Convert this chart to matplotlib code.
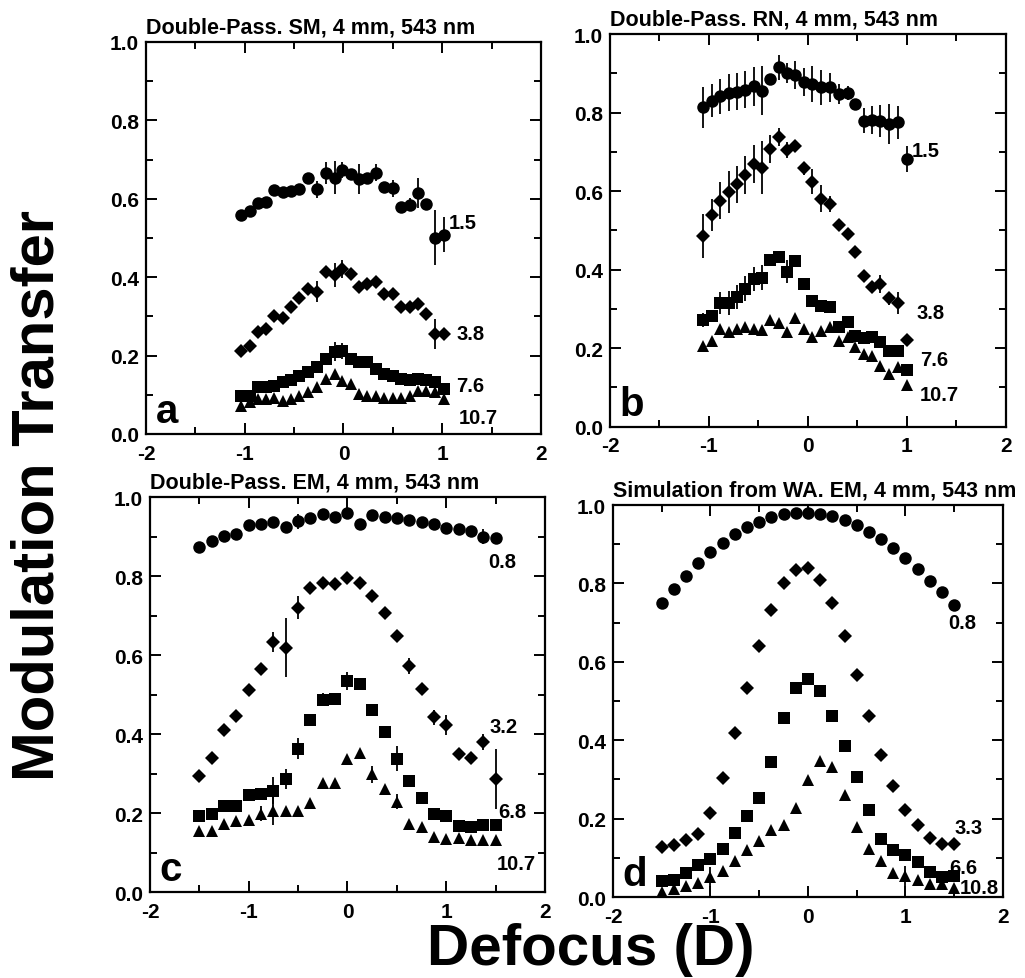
import numpy as np
import matplotlib.pyplot as plt

plt.rcParams['font.family'] = ['Liberation Sans', 'DejaVu Sans']
plt.rcParams['font.weight'] = 'bold'

# ---- panel a: Double-Pass SM ----
xa = [-1.04, -0.95, -0.87, -0.78, -0.70, -0.61, -0.53, -0.45, -0.36, -0.27, -0.18, -0.09, -0.01,
      0.08, 0.16, 0.24, 0.33, 0.41, 0.50, 0.58, 0.67, 0.75, 0.84, 0.93, 1.02]
a_c1 = [0.558, 0.568, 0.589, 0.593, 0.622, 0.618, 0.620, 0.624, 0.653, 0.624, 0.665, 0.654, 0.674,
        0.663, 0.650, 0.654, 0.667, 0.630, 0.627, 0.580, 0.585, 0.614, 0.586, 0.501, 0.508]
a_e1 = [0, 0, 0, 0, 0, 0, 0, 0, 0, 0.022, 0.028, 0.042, 0.02, 0, 0.038, 0, 0.021, 0, 0.022, 0,
        0.017, 0.038, 0, 0.07, 0.045]
a_c2 = [0.212, 0.225, 0.259, 0.268, 0.300, 0.297, 0.323, 0.348, 0.370, 0.363, 0.412, 0.405, 0.422,
        0.408, 0.374, 0.382, 0.388, 0.357, 0.357, 0.323, 0.323, 0.331, 0.306, 0.255, 0.255]
a_e2 = [0, 0, 0, 0, 0, 0.015, 0, 0, 0, 0.026, 0, 0.03, 0.023, 0, 0, 0, 0, 0, 0, 0, 0, 0, 0, 0.038, 0]
a_c3 = [0.098, 0.098, 0.121, 0.119, 0.123, 0.132, 0.138, 0.149, 0.159, 0.170, 0.191, 0.210, 0.212,
        0.191, 0.183, 0.183, 0.167, 0.153, 0.149, 0.140, 0.138, 0.140, 0.138, 0.132, 0.115]
a_e3 = [0, 0, 0, 0, 0, 0, 0, 0, 0, 0, 0, 0.025, 0.02, 0, 0, 0, 0, 0, 0, 0, 0, 0, 0, 0, 0]
a_c4 = [0.072, 0.081, 0.089, 0.089, 0.093, 0.085, 0.089, 0.098, 0.106, 0.119, 0.140, 0.153, 0.136,
        0.127, 0.102, 0.098, 0.098, 0.093, 0.093, 0.093, 0.098, 0.110, 0.110, 0.106, 0.089]

# ---- panel b: Double-Pass RN ----
xb = [-1.06, -0.97, -0.89, -0.80, -0.72, -0.64, -0.55, -0.46, -0.38, -0.29, -0.21, -0.13, -0.04,
      0.04, 0.13, 0.22, 0.31, 0.40, 0.48, 0.57, 0.65, 0.73, 0.82, 0.91, 1.00]
b_c1 = [0.813, 0.830, 0.841, 0.850, 0.853, 0.858, 0.867, 0.856, 0.885, 0.915, 0.901, 0.896, 0.877,
        0.873, 0.864, 0.864, 0.847, 0.850, 0.822, 0.779, 0.782, 0.779, 0.771, 0.775, 0.682]
b_e1 = [0.051, 0.042, 0.045, 0.047, 0.047, 0.047, 0.049, 0.062, 0.01, 0.032, 0.025, 0.036, 0.036,
        0.045, 0.045, 0.036, 0.025, 0.017, 0.01, 0.032, 0.036, 0.040, 0.051, 0.042, 0.034]
b_c2 = [0.486, 0.539, 0.576, 0.598, 0.618, 0.641, 0.669, 0.660, 0.707, 0.739, 0.705, 0.716, 0.658,
        0.624, 0.581, 0.567, 0.514, 0.491, 0.444, 0.385, 0.357, 0.363, 0.327, 0.315, 0.222]
b_e2 = [0.057, 0.040, 0.047, 0.053, 0.047, 0.049, 0.049, 0.068, 0.036, 0.023, 0.021, 0, 0.017,
        0.032, 0.034, 0.021, 0, 0, 0, 0, 0, 0.023, 0.017, 0.028, 0]
b_c3 = [0.272, 0.281, 0.315, 0.315, 0.331, 0.352, 0.376, 0.380, 0.425, 0.431, 0.395, 0.423, 0.363,
        0.321, 0.308, 0.304, 0.253, 0.266, 0.230, 0.225, 0.228, 0.215, 0.194, 0.194, 0.145]
b_e3 = [0.017, 0, 0.028, 0.030, 0.030, 0.032, 0.030, 0.032, 0, 0, 0.030, 0, 0, 0, 0, 0, 0, 0, 0, 0,
        0, 0, 0, 0, 0]
b_c4 = [0.206, 0.219, 0.249, 0.240, 0.250, 0.253, 0.249, 0.247, 0.272, 0.264, 0.240, 0.276, 0.250,
        0.228, 0.244, 0.253, 0.219, 0.228, 0.202, 0.185, 0.181, 0.155, 0.134, 0.151, 0.106]

# ---- panel c: Double-Pass EM ----
xc = [-1.5, -1.375, -1.25, -1.125, -1.0, -0.875, -0.75, -0.625, -0.5, -0.375, -0.25, -0.125, 0.0,
      0.125, 0.25, 0.375, 0.5, 0.625, 0.75, 0.875, 1.0, 1.125, 1.25, 1.375, 1.5]
c_c1 = [0.873, 0.889, 0.901, 0.907, 0.928, 0.932, 0.937, 0.924, 0.939, 0.948, 0.956, 0.949, 0.959,
        0.932, 0.954, 0.949, 0.948, 0.943, 0.937, 0.931, 0.922, 0.920, 0.914, 0.899, 0.897]
c_e1 = [0, 0, 0, 0, 0, 0, 0, 0, 0.019, 0, 0, 0, 0, 0, 0, 0, 0, 0, 0, 0, 0, 0, 0, 0.019, 0]
c_c2 = [0.295, 0.340, 0.409, 0.446, 0.512, 0.565, 0.633, 0.619, 0.720, 0.770, 0.783, 0.781, 0.796,
        0.782, 0.749, 0.706, 0.647, 0.572, 0.513, 0.443, 0.422, 0.349, 0.340, 0.380, 0.287]
c_e2 = [0, 0, 0, 0, 0, 0, 0.025, 0.074, 0.030, 0, 0, 0, 0, 0, 0, 0, 0.015, 0.021, 0, 0.019, 0.025,
        0, 0, 0.021, 0.076]
c_c3 = [0.192, 0.198, 0.217, 0.219, 0.245, 0.249, 0.256, 0.287, 0.363, 0.436, 0.487, 0.489, 0.534,
        0.526, 0.460, 0.405, 0.338, 0.281, 0.239, 0.198, 0.192, 0.166, 0.165, 0.170, 0.169]
c_e3 = [0, 0, 0, 0, 0, 0, 0.034, 0.025, 0.027, 0, 0.017, 0, 0.023, 0, 0, 0, 0.032, 0, 0, 0, 0, 0,
        0, 0, 0]
c_c4 = [0.154, 0.154, 0.173, 0.180, 0.183, 0.198, 0.205, 0.205, 0.205, 0.225, 0.276, 0.276, 0.338,
        0.352, 0.298, 0.262, 0.228, 0.173, 0.165, 0.139, 0.135, 0.138, 0.131, 0.131, 0.131]
c_e4 = [0, 0, 0, 0, 0, 0.019, 0.036, 0, 0, 0, 0, 0, 0, 0, 0.021, 0, 0.019, 0, 0, 0, 0, 0, 0, 0, 0]

# ---- panel d: simulation from WA, EM ----
xd = xc
d_c1 = [0.749, 0.785, 0.818, 0.851, 0.879, 0.904, 0.925, 0.945, 0.958, 0.969, 0.978, 0.980, 0.980,
        0.978, 0.972, 0.961, 0.949, 0.932, 0.913, 0.890, 0.864, 0.838, 0.806, 0.777, 0.745]
d_c2 = [0.127, 0.134, 0.146, 0.160, 0.214, 0.304, 0.418, 0.533, 0.641, 0.732, 0.800, 0.834, 0.839,
        0.808, 0.749, 0.665, 0.567, 0.463, 0.363, 0.282, 0.221, 0.183, 0.151, 0.136, 0.136]
d_c3 = [0.041, 0.044, 0.061, 0.081, 0.098, 0.123, 0.163, 0.208, 0.253, 0.344, 0.457, 0.533, 0.556,
        0.525, 0.463, 0.386, 0.306, 0.221, 0.149, 0.119, 0.106, 0.089, 0.064, 0.051, 0.053]
d_c4 = [0.013, 0.021, 0.027, 0.036, 0.051, 0.066, 0.093, 0.121, 0.144, 0.171, 0.185, 0.228, 0.299,
        0.346, 0.331, 0.261, 0.178, 0.123, 0.092, 0.061, 0.053, 0.044, 0.034, 0.032, 0.024]
d_e4 = [0, 0, 0, 0, 0.025, 0, 0, 0, 0, 0, 0, 0, 0, 0, 0, 0, 0, 0, 0, 0, 0.025, 0, 0, 0, 0]

titles = ['Double-Pass. SM, 4 mm, 543 nm', 'Double-Pass. RN, 4 mm, 543 nm',
          'Double-Pass. EM, 4 mm, 543 nm', 'Simulation from WA. EM, 4 mm, 543 nm']
letters = ['a', 'b', 'c', 'd']
freq_a = ['1.5', '3.8', '7.6', '10.7']
freq_b = ['1.5', '3.8', '7.6', '10.7']
freq_c = ['0.8', '3.2', '6.8', '10.7']
freq_d = ['0.8', '3.3', '6.6', '10.8']

zero = [0] * 25
panels = [
    (xa, [(a_c1, a_e1), (a_c2, a_e2), (a_c3, a_e3), (a_c4, zero)], freq_a,
     [(1.07, 0.54), (1.14, 0.257), (1.14, 0.123), (1.17, 0.042)]),
    (xb, [(b_c1, b_e1), (b_c2, b_e2), (b_c3, b_e3), (b_c4, zero)], freq_b,
     [(1.05, 0.703), (1.10, 0.291), (1.13, 0.172), (1.13, 0.083)]),
    (xc, [(c_c1, c_e1), (c_c2, c_e2), (c_c3, c_e3), (c_c4, c_e4)], freq_c,
     [(1.43, 0.838), (1.44, 0.42), (1.53, 0.203), (1.51, 0.072)]),
    (xd, [(d_c1, zero), (d_c2, zero), (d_c3, zero), (d_c4, d_e4)], freq_d,
     [(1.44, 0.70), (1.50, 0.178), (1.45, 0.076), (1.56, 0.025)]),
]

rects = [[0.1424, 0.5557, 0.3854, 0.4004], [0.5951, 0.5631, 0.3863, 0.4011],
         [0.1463, 0.0878, 0.3854, 0.4035], [0.5980, 0.0827, 0.3805, 0.4004]]
markers = [('o', 9), ('D', 7), ('s', 8), ('^', 8.5)]

fig = plt.figure(figsize=(10.25, 9.79), dpi=100)
for k, (x, series, labels, lpos) in enumerate(panels):
    ax = fig.add_axes(rects[k])
    for (y, e), (m, ms), lab, (tx, ty) in zip(series, markers, labels, lpos):
        ax.errorbar(x, y, yerr=e, fmt=m, ms=ms, color='k', ecolor='k', elinewidth=1.3,
                    capsize=0, mew=0)
        ax.text(tx, ty, lab, fontsize=14.5, fontweight='bold', ha='left', va='center', clip_on=False)
    ax.set_xlim(-2, 2)
    ax.set_ylim(0, 1)
    ax.set_xticks([-2, -1, 0, 1, 2])
    ax.set_xticklabels(['-2', '-1', '0', '1', '2'])
    ax.set_yticks([0, 0.2, 0.4, 0.6, 0.8, 1.0])
    ax.set_yticklabels(['0.0', '0.2', '0.4', '0.6', '0.8', '1.0'])
    ax.set_xticks(np.arange(-1.5, 2, 1.0), minor=True)
    ax.set_yticks(np.arange(0.1, 1.0, 0.2), minor=True)
    ax.tick_params(which='both', direction='in', top=True, right=True, width=1.4, labelsize=15)
    ax.tick_params(which='major', length=8)
    ax.tick_params(which='minor', length=5)
    ax.tick_params(axis='x', pad=7)
    ax.tick_params(axis='y', pad=5)
    for s in ax.spines.values():
        s.set_linewidth(1.6)
    ax.text(0, 1.024, titles[k], transform=ax.transAxes, fontsize=15.5, fontweight='bold',
            ha='left', va='baseline')
    ax.text(-1.9, 0.03, letters[k], fontsize=29, fontweight='bold', ha='left', va='baseline')

fig.text(0.037, 0.494, 'Modulation Transfer', rotation=90, fontsize=43, fontweight='bold',
         ha='center', va='center')
fig.text(0.576, 0.030, 'Defocus (D)', fontsize=42, fontweight='bold', ha='center', va='center')

fig.savefig('out.png', dpi=100)
